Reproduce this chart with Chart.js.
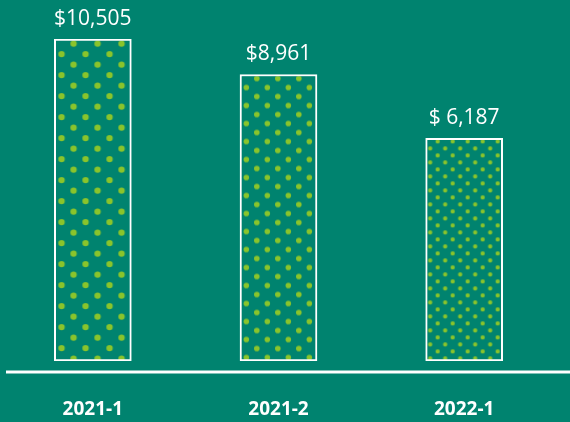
<!DOCTYPE html>
<html>
<head>
<meta charset="utf-8">
<script src="https://cdn.jsdelivr.net/npm/chart.js@4.4.1/dist/chart.umd.min.js"></script>
<style>
    html, body { margin: 0; padding: 0; background: #00836f; }
    #wrap { width: 570px; height: 422px; position: relative; }
</style>
</head>
<body>
<div id="wrap"><canvas id="myChart"></canvas></div>
<script>
const categories = ["2021-1", "2021-2", "2022-1"];
const amounts = [10505, 8961, 6187];
const amountLabels = ["$10,505", "$8,961", "$ 6,187"];

// dot pattern per bar (gets finer from left to right)
const dotSpacingX = [24, 21, 15];
const dotSpacingY = [21, 18, 14];
const dotRadius = [3.2, 2.8, 2.2];

const bgColor = "#00836f";
const dotColor = "#8ac42c";
const yMin = -3500;

const ctx = document.getElementById("myChart");
const ctx2d = ctx.getContext("2d");

function makeDots(sx, sy, r) {
    const c = document.createElement("canvas");
    c.width = sx;
    c.height = sy;
    const g = c.getContext("2d");
    g.fillStyle = bgColor;
    g.fillRect(0, 0, sx, sy);
    g.fillStyle = dotColor;
    [[0.8 * sx, 0.22 * sy], [0.3 * sx, 0.72 * sy]].forEach(p => {
        g.beginPath();
        g.arc(p[0], p[1], r, 0, Math.PI * 2);
        g.fill();
    });
    return ctx2d.createPattern(c, "repeat");
}

const patterns = amounts.map((v, i) => makeDots(dotSpacingX[i], dotSpacingY[i], dotRadius[i]));

const barDecor = {
    id: "barDecor",
    beforeDatasetsDraw(chart) {
        chart.getDatasetMeta(0).data.forEach((bar, i) => {
            patterns[i].setTransform(new DOMMatrix().translate(bar.x - bar.width / 2, bar.y));
        });
    },
    afterDatasetsDraw(chart) {
        const c = chart.ctx;
        c.save();
        c.fillStyle = "#ffffff";
        c.font = "400 21px 'Open Sans'";
        c.textAlign = "center";
        c.textBaseline = "alphabetic";
        chart.getDatasetMeta(0).data.forEach((bar, i) => {
            c.fillText(amountLabels[i], bar.x, bar.y - 14);
        });
        // baseline under the bars
        const y = chart.scales.y.getPixelForValue(yMin) + 11;
        c.strokeStyle = "#ffffff";
        c.lineWidth = 3;
        c.beginPath();
        c.moveTo(6, y);
        c.lineTo(chart.width, y);
        c.stroke();
        c.restore();
    }
};

new Chart(ctx, {
    type: "bar",
    data: {
        labels: categories,
        datasets: [{
            data: amounts,
            base: yMin,
            backgroundColor: patterns,
            borderColor: "#ffffff",
            borderWidth: 2,
            borderSkipped: false,
            barThickness: 77
        }]
    },
    options: {
        animation: false,
        responsive: true,
        maintainAspectRatio: false,
        layout: { padding: { top: 39, right: 13, left: 0, bottom: 0 } },
        plugins: {
            legend: { display: false },
            tooltip: { enabled: false }
        },
        scales: {
            y: {
                display: false,
                min: yMin,
                max: 10505
            },
            x: {
                offset: true,
                grid: { display: false, drawTicks: false },
                border: { display: false },
                afterFit: scale => { scale.height = 61; },
                ticks: {
                    color: "#ffffff",
                    padding: 37,
                    font: { family: "'Open Sans'", size: 19, weight: "bold" }
                }
            }
        }
    },
    plugins: [barDecor]
});
</script>
</body>
</html>
